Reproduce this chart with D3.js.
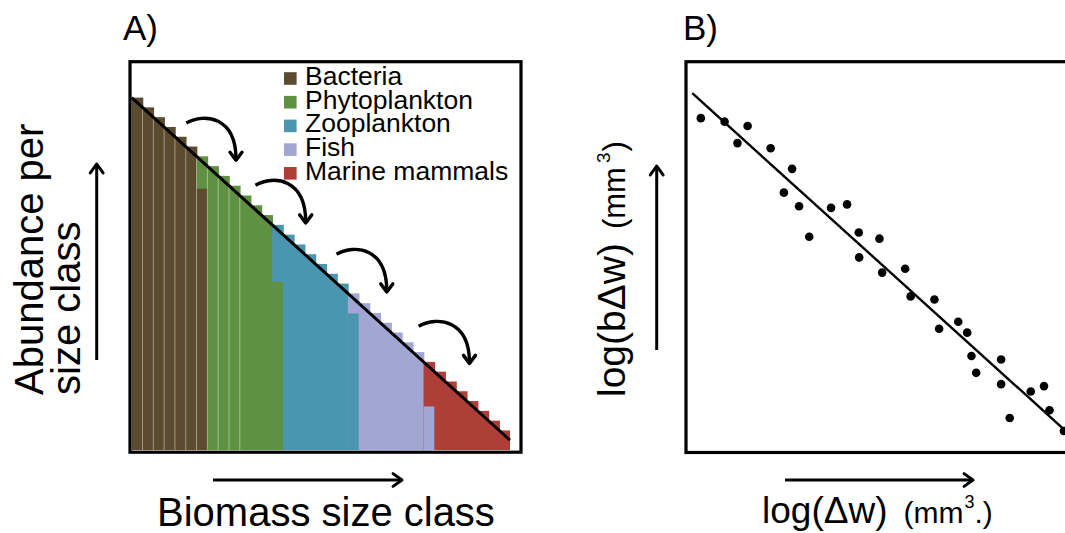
<!DOCTYPE html>
<html>
<head>
<meta charset="utf-8">
<script src="https://cdn.jsdelivr.net/npm/d3@7"></script>
<style>
  html, body { margin: 0; padding: 0; background: #fff; }
  svg { display: block; font-family: "Liberation Sans", Arial, sans-serif; }
</style>
</head>
<body>
<svg id="chart" width="1065" height="533"></svg>
<script>
// ---------- Panel A data ----------
const groupNames = ["Bacteria", "Phytoplankton", "Zooplankton", "Fish", "Marine mammals"];
const groupColors = ["#5d4b2f", "#5f9143", "#4a96b1", "#a2a6d3", "#ae3f38"];
// abundance per size class (arbitrary units), one value per size class column
const sizeClass = [1,2,3,4,5,6,7,8,9,10,11,12,13,14,15,16,17,18,19,20,21,22,23,24,25,26,27,28,29,30,31,32,33,34,35];
const abundance = [36,35,34,33,32,31,30,29,28,27,26,25,24,23,22,21,20,19,18,17,16,15,14,13,12,11,10,9,8,7,6,5,4,3,2];
const columnGroup = [0,0,0,0,0,0,1,1,1,1,1,1,1,2,2,2,2,2,2,2,3,3,3,3,3,3,3,4,4,4,4,4,4,4,4];
// lower part of the transition columns still belongs to the previous group
const overlapClass = [7, 14, 21, 28];
const overlapGroup = [0, 1, 2, 3];
const overlapHeight = [26.7, 17.2, 13.95, 4.45];
// spectrum line (size-class position, abundance)
const spectrumX = [0, 35];
const spectrumY = [36, 1];
// curved "transfer" arrows (size-class position, abundance)
const arrowStartX = [5.05, 11.45, 18.95, 26.55];
const arrowStartY = [33.4, 27.05, 20.0, 12.65];
const arrowEndX = [9.65, 16.1, 23.6, 31.25];
const arrowEndY = [29.6, 23.2, 16.15, 8.85];

// ---------- Panel B data ----------
const logW  = [0.38,0.99,1.58,1.32,2.17,2.72,2.51,2.90,3.72,4.13,3.16,4.43,4.96,4.44,5.03,5.62,5.76,6.37,6.98,6.49,7.21,7.32,8.08,7.44,8.08,8.84,9.18,9.32,8.30,9.69];
const logBW = [8.56,8.47,8.36,7.92,7.79,7.26,6.65,6.30,6.26,6.35,5.52,5.63,5.47,4.99,4.60,4.70,3.99,3.91,3.34,3.16,3.06,2.46,2.37,2.03,1.74,1.55,1.69,1.07,0.87,0.54];
const fitX = [0.16, 10.4];
const fitY = [9.20, -0.06];

const svg = d3.select("#chart");

// ================= Panel A =================
const xA = d3.scaleLinear().domain([0, 35]).range([131.7, 510]);
const yA = d3.scaleLinear().domain([0, 36]).range([450, 97.6]);

const gA = svg.append("g");

// bars (slightly overlapping the next column to avoid anti-aliasing seams)
gA.selectAll("rect.bar")
  .data(sizeClass)
  .join("rect")
  .attr("class", "bar")
  .attr("x", (d, i) => xA(i))
  .attr("width", (d, i) => xA(i + 1) - xA(i) + (i < sizeClass.length - 1 ? 0.8 : 0))
  .attr("y", (d, i) => yA(abundance[i]))
  .attr("height", (d, i) => yA(0) - yA(abundance[i]))
  .attr("fill", (d, i) => groupColors[columnGroup[i]]);

// underlying parts of transition columns
gA.selectAll("rect.overlap")
  .data(overlapClass)
  .join("rect")
  .attr("class", "overlap")
  .attr("x", d => xA(d - 1))
  .attr("width", d => xA(d) - xA(d - 1))
  .attr("y", (d, i) => yA(overlapHeight[i]))
  .attr("height", (d, i) => yA(0) - yA(overlapHeight[i]))
  .attr("fill", (d, i) => groupColors[overlapGroup[i]]);

// light separators in the first columns
gA.selectAll("line.sep")
  .data(sizeClass.filter(d => d <= 10))
  .join("line")
  .attr("class", "sep")
  .attr("x1", d => xA(d))
  .attr("x2", d => xA(d))
  .attr("y1", d => yA(abundance[d]))
  .attr("y2", yA(0))
  .attr("stroke", "rgba(255,255,255,0.42)")
  .attr("stroke-width", 1);

// spectrum line
gA.append("line")
  .attr("x1", xA(spectrumX[0])).attr("y1", yA(spectrumY[0]))
  .attr("x2", xA(spectrumX[1])).attr("y2", yA(spectrumY[1]))
  .attr("stroke", "#000").attr("stroke-width", 3);

// curved arrows
arrowStartX.forEach((sx, i) => {
  const S = [xA(sx), yA(arrowStartY[i])];
  const T = [xA(arrowEndX[i]), yA(arrowEndY[i])];
  const dx = T[0] - S[0], dy = T[1] - S[1];
  const p = d3.path();
  p.moveTo(S[0], S[1]);
  p.bezierCurveTo(S[0] + 0.37 * dx, S[1] - 0.28 * dy, T[0], S[1] - 0.17 * dy, T[0], T[1] - 1);
  gA.append("path").attr("d", p.toString())
    .attr("fill", "none").attr("stroke", "#000").attr("stroke-width", 3.4);
  gA.append("path")
    .attr("d", `M${T[0] - 6},${T[1] - 8} L${T[0]},${T[1]} L${T[0] + 6},${T[1] - 8}`)
    .attr("fill", "none").attr("stroke", "#000").attr("stroke-width", 3.4)
    .attr("stroke-linecap", "round").attr("stroke-linejoin", "round");
});

// frame
gA.append("rect")
  .attr("x", 130).attr("y", 61.7).attr("width", 391).attr("height", 390.5)
  .attr("fill", "none").attr("stroke", "#000").attr("stroke-width", 3.2);

// legend
const legend = gA.selectAll("g.leg")
  .data(groupNames)
  .join("g")
  .attr("class", "leg")
  .attr("transform", (d, i) => `translate(284,${85 + i * 23.7})`);
legend.append("rect")
  .attr("x", 0).attr("y", -12.8).attr("width", 12.6).attr("height", 12.6)
  .attr("fill", (d, i) => groupColors[i]);
legend.append("text")
  .attr("x", 21).attr("y", 0)
  .attr("font-size", 26.5)
  .attr("fill", "#000")
  .text(d => d);

// ================= Panel B =================
const xB = d3.scaleLinear().domain([0, 10]).range([686, 1076]);
const yB = d3.scaleLinear().domain([0, 10]).range([452, 62]);
const gB = svg.append("g");

gB.append("line")
  .attr("x1", xB(fitX[0])).attr("y1", yB(fitY[0]))
  .attr("x2", xB(fitX[1])).attr("y2", yB(fitY[1]))
  .attr("stroke", "#000").attr("stroke-width", 2.4);

gB.selectAll("circle")
  .data(logW)
  .join("circle")
  .attr("cx", d => xB(d))
  .attr("cy", (d, i) => yB(logBW[i]))
  .attr("r", 4.3)
  .attr("fill", "#000");

gB.append("rect")
  .attr("x", 686).attr("y", 61.7).attr("width", 400).attr("height", 390.8)
  .attr("fill", "none").attr("stroke", "#000").attr("stroke-width", 3.2);

// ================= Labels and axis arrows =================
function arrow(x1, y1, x2, y2) {
  const ang = Math.atan2(y2 - y1, x2 - x1);
  const L = 11, a = 0.62;
  svg.append("line").attr("x1", x1).attr("y1", y1).attr("x2", x2).attr("y2", y2)
    .attr("stroke", "#000").attr("stroke-width", 3);
  const h1 = [x2 - L * Math.cos(ang - a), y2 - L * Math.sin(ang - a)];
  const h2 = [x2 - L * Math.cos(ang + a), y2 - L * Math.sin(ang + a)];
  svg.append("path").attr("d", `M${h1[0]},${h1[1]} L${x2},${y2} L${h2[0]},${h2[1]}`)
    .attr("fill", "none").attr("stroke", "#000").attr("stroke-width", 3)
    .attr("stroke-linecap", "round").attr("stroke-linejoin", "round");
}

// panel titles
svg.append("text").attr("x", 123).attr("y", 40).attr("font-size", 35).text("A)");
svg.append("text").attr("x", 683).attr("y", 40).attr("font-size", 35).text("B)");

// Panel A axis labels
const yLabA = svg.append("text").attr("font-size", 40)
  .attr("transform", "translate(43,395) rotate(-90)");
yLabA.append("tspan").attr("x", 0).attr("y", 0).text("Abundance per");
yLabA.append("tspan").attr("x", 0).attr("y", 37).text("size class");
arrow(96.7, 360, 96.7, 164);

svg.append("text").attr("x", 157).attr("y", 526).attr("font-size", 40).text("Biomass size class");
arrow(213, 480, 402, 480);

// Panel B axis labels
const yLabB = svg.append("text").attr("font-size", 39)
  .attr("transform", "translate(625,397) rotate(-90)");
yLabB.append("tspan").text("log(bΔw)");
yLabB.append("tspan").attr("dx", 14).attr("font-size", 31).text("(mm");
yLabB.append("tspan").attr("dx", 4).attr("dy", -15).attr("font-size", 19).text("3");
yLabB.append("tspan").attr("dx", 1).attr("dy", 15).attr("font-size", 31).text(")");
arrow(656.7, 350, 656.7, 166);

const xLabB = svg.append("text").attr("x", 762).attr("y", 523).attr("font-size", 37);
xLabB.append("tspan").text("log(Δw)");
xLabB.append("tspan").attr("dx", 16).attr("font-size", 30).text("(mm");
xLabB.append("tspan").attr("dx", 1).attr("dy", -15).attr("font-size", 18).text("3");
xLabB.append("tspan").attr("dx", 0).attr("dy", 15).attr("font-size", 30).text(".)");
arrow(785, 480, 973, 480);
</script>
</body>
</html>
